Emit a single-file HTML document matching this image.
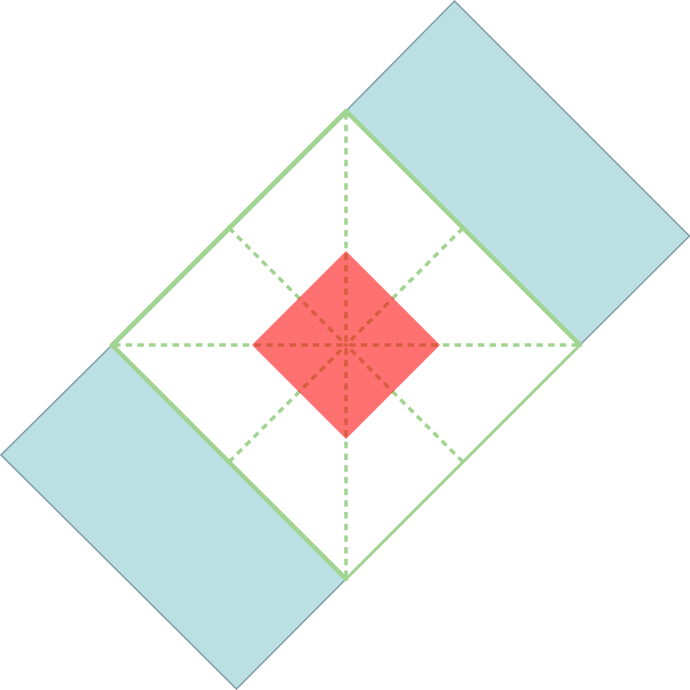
<!DOCTYPE html>
<html lang="en">
<head>
<meta charset="utf-8">
<title>Diamond diagram</title>
<style>
html,body{margin:0;padding:0;background:#fff;width:690px;height:690px;overflow:hidden}
svg{display:block}
</style>
</head>
<body>
<svg xmlns="http://www.w3.org/2000/svg" width="690" height="690" viewBox="0 0 690 690">
  <polygon points="346,111 454.5,1 689.5,236 580,345" fill="#bbe0e3" stroke="#7f9ba6" stroke-width="1.5"/>
  <polygon points="112,345 1,455 236.5,689 346,579" fill="#bbe0e3" stroke="#7f9ba6" stroke-width="1.5"/>
  <g fill="none" stroke="#a1d490" stroke-width="3.5" stroke-dasharray="6.5 5.2">
    <line x1="346" y1="113" x2="346" y2="345"/>
    <line x1="346" y1="577" x2="346" y2="345"/>
    <line x1="114" y1="345" x2="346" y2="345"/>
    <line x1="578" y1="345" x2="346" y2="345"/>
    <line x1="229" y1="228" x2="346" y2="345"/>
    <line x1="463" y1="228" x2="346" y2="345"/>
    <line x1="229" y1="462" x2="346" y2="345"/>
    <line x1="463" y1="462" x2="346" y2="345"/>
  </g>
  <polygon points="346,251 440,345 346,439 252,345" fill="#ff0000" fill-opacity="0.56"/>
  <g fill="none" stroke="#a1d490" stroke-linecap="round">
    <line x1="112" y1="345.5" x2="346" y2="111.5" stroke-width="5"/>
    <line x1="346" y1="111" x2="580" y2="345" stroke-width="4.5"/>
    <line x1="112" y1="345" x2="346" y2="579" stroke-width="4.5"/>
    <line x1="346" y1="579" x2="580" y2="345" stroke-width="3"/>
  </g>
</svg>
</body>
</html>
